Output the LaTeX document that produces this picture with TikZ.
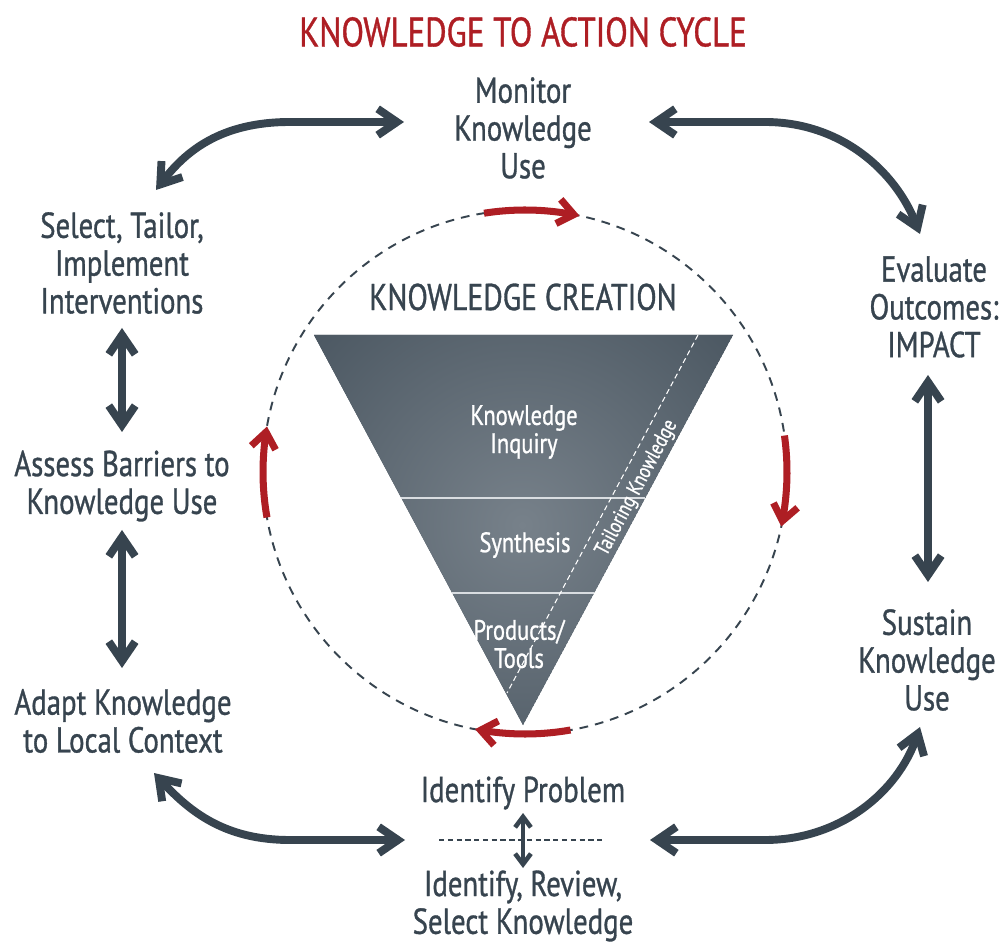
\documentclass[tikz,border=0pt]{standalone}
\usepackage{fontspec}
\setmainfont[FakeStretch=0.8,FakeBold=0.9]{PT Sans}
\usetikzlibrary{arrows.meta,calc}
\definecolor{slate}{HTML}{37444F}
\definecolor{kred}{HTML}{AE1E24}
\definecolor{glight}{HTML}{77818A}
\definecolor{wline}{HTML}{D9DDE1}
\begin{document}
\begin{tikzpicture}[x=0.02cm,y=-0.02cm,
  lbl/.style={text=slate, align=center, font=\fontsize{20.5}{21.5}\selectfont, inner sep=0pt},
  inlbl/.style={text=white, align=center, font=\fontsize{16}{16}\selectfont, inner sep=0pt},
  darr/.style={draw=slate, line width=4.5pt, {Straight Barb[length=11pt,width=15pt]}-{Straight Barb[length=11pt,width=15pt]}},
  sarr/.style={draw=slate, line width=2.6pt, {Straight Barb[length=6pt,width=9pt]}-{Straight Barb[length=6pt,width=9pt]}},
  rarr/.style={draw=kred, line width=4pt, -{Straight Barb[length=9pt,width=14pt]}},
]
\useasboundingbox (0,0) rectangle (1001,945);

% title
\node[text=kred, font=\fontsize{23.4}{26}\selectfont] (title) at (523,32) {KNOWLEDGE TO ACTION CYCLE};

% dashed circle
\coordinate (C) at (525,472);
\draw[slate, line width=1.1pt, dash pattern=on 5pt off 4pt] (C) circle[radius=262];

% triangle with shading
\coordinate (T1) at (314,335);
\coordinate (T2) at (733,335);
\coordinate (T3) at (523,725);
\begin{scope}
  \clip (T1) -- (T2) -- (T3) -- cycle;
  \fill[slate] (T1) -- (T2) -- (T3) -- cycle;
  \shade[inner color=glight, outer color=slate] (522,525) circle[radius=420];
\end{scope}
\draw[wline, line width=0.8pt] ($(T1)!0.418!(T3)$) -- ($(T2)!0.418!(T3)$);
\draw[wline, line width=0.8pt] ($(T1)!0.6615!(T3)$) -- ($(T2)!0.6615!(T3)$);
\coordinate (D1) at (698,335);
\coordinate (D2) at (507,693);
\draw[white, line width=0.6pt, dash pattern=on 3pt off 2pt] (D1) -- (D2);

\node[text=slate, font=\fontsize{21.2}{22}\selectfont] (kc) at (523,297) {KNOWLEDGE CREATION};
\node[inlbl] (inq) at (524,432) {Knowledge\\Inquiry};
\node[inlbl] (syn) at (525,545) {Synthesis};
\node[inlbl] (prod) at (519,644) {Products/\\Tools};
\node[text=white, font=\fontsize{12.2}{13}\selectfont, rotate=62, inner sep=0pt] (tail) at (637,488) {Tailoring Knowledge};

% red arrows along circle
\draw[rarr] plot[domain=-99:-78, samples=20] ({525+262*cos(\x)},{472+262*sin(\x)});
\draw[rarr] plot[domain=-8:12, samples=20] ({525+262*cos(\x)},{472+262*sin(\x)});
\draw[rarr] plot[domain=80:101, samples=20] ({525+262*cos(\x)},{472+262*sin(\x)});
\draw[rarr] plot[domain=170:190, samples=20] ({525+262*cos(\x)},{472+262*sin(\x)});

% labels
\node[lbl] (mon) at (523,128) {Monitor\\Knowledge\\Use};
\node[lbl] (sel) at (122,263) {Select, Tailor,\\Implement\\Interventions};
\node[lbl] (ass) at (122,486) {Assess Barriers to\\Knowledge Use};
\node[lbl] (ada) at (123,721) {Adapt Knowledge\\to Local Context};
\node[lbl] (idp) at (523,793) {Identify Problem};
\node[lbl] (idr) at (523,906) {Identify, Review,\\Select Knowledge};
\node[lbl] (eva) at (934,307) {Evaluate\\Outcomes:\\IMPACT};
\node[lbl] (sus) at (927,660) {Sustain\\Knowledge\\Use};

% arrow end coordinates
\coordinate (tlA) at (156,190);
\coordinate (tlB) at (404,122);
\coordinate (trA) at (649,122);
\coordinate (trB) at (920,234);
\coordinate (blA) at (154,773);
\coordinate (blB) at (405,840);
\coordinate (brA) at (650,840);
\coordinate (brB) at (920,727);
\coordinate (l1a) at (122,328);
\coordinate (l1b) at (122,432);
\coordinate (l2a) at (122,530);
\coordinate (l2b) at (122,668);
\coordinate (r1a) at (928,375);
\coordinate (r1b) at (928,582);
\coordinate (sa) at (523,813);
\coordinate (sb) at (523,868);
\coordinate (dl1) at (439,840);
\coordinate (dl2) at (604,840);

\draw[darr] (tlA) .. controls (185,152) and (220,122) .. (290,122) -- (tlB);
\draw[darr] (trA) -- (765,122) .. controls (840,122) and (895,170) .. (trB);
\draw[darr] (blA) .. controls (190,812) and (225,840) .. (290,840) -- (blB);
\draw[darr] (brA) -- (765,840) .. controls (840,840) and (898,792) .. (brB);
\draw[darr] (l1a) -- (l1b);
\draw[darr] (l2a) -- (l2b);
\draw[darr] (r1a) -- (r1b);

\draw[slate, line width=0.9pt, dash pattern=on 3pt off 2pt] (dl1) -- (dl2);
\draw[sarr] (sa) -- (sb);
\end{tikzpicture}
\end{document}
